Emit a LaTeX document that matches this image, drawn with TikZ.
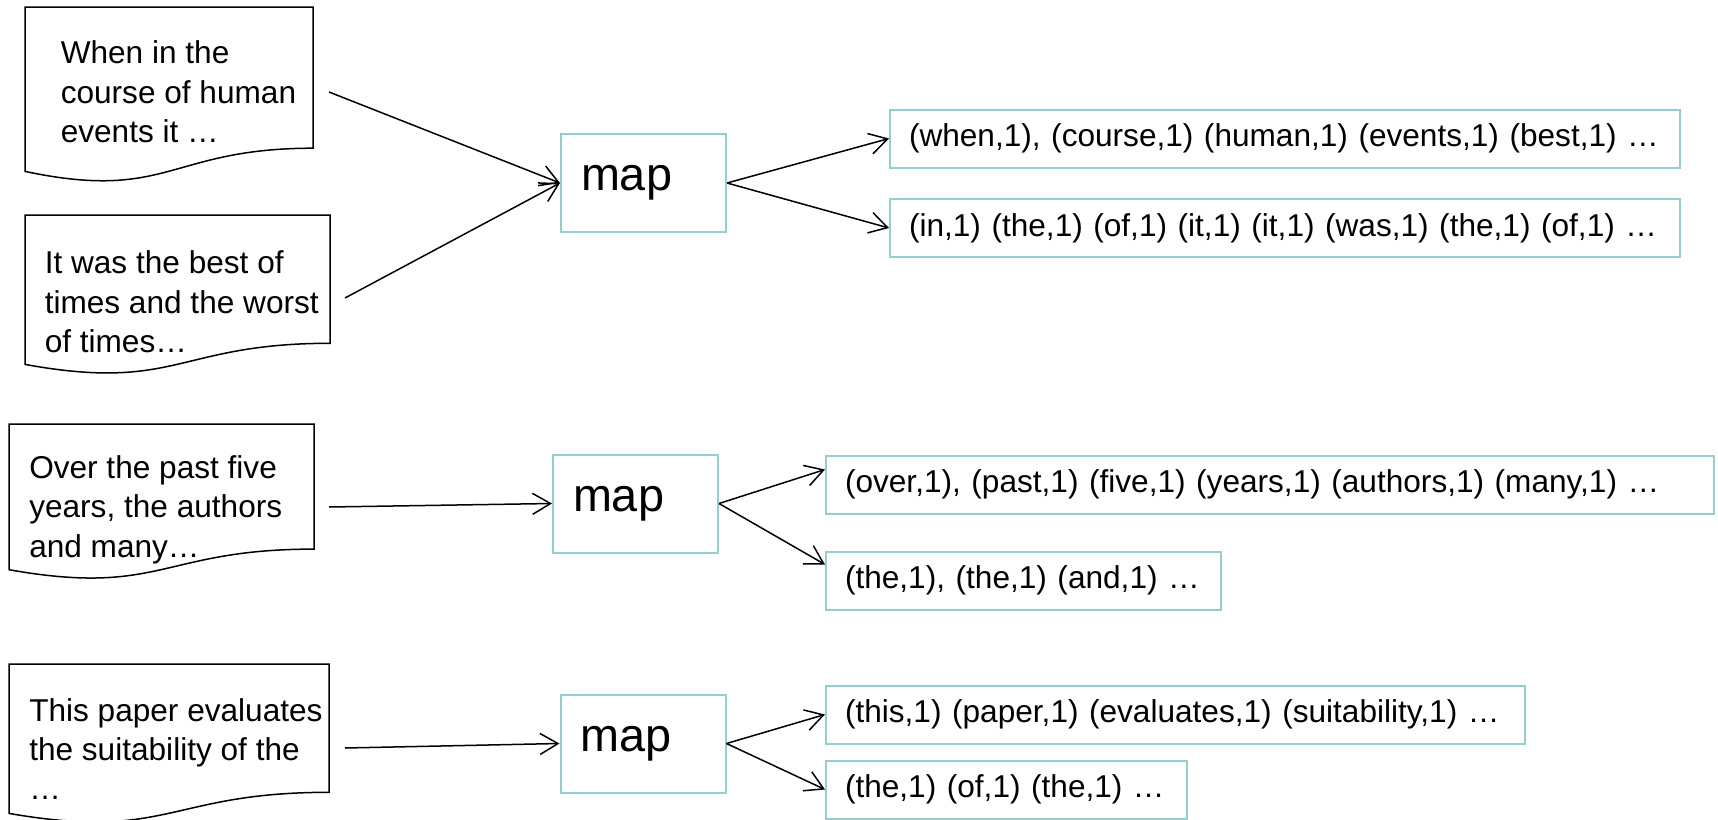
\documentclass[tikz,border=0pt]{standalone}
\usepackage{fontspec}
\setmainfont{Liberation Sans}
\usetikzlibrary{arrows.meta}
\definecolor{boxteal}{RGB}{150,206,206}
\begin{document}
\begin{tikzpicture}[x=0.5pt,y=-0.5pt,line width=0.75pt,
  doctext/.style={anchor=west,align=left,inner sep=0pt,font=\fontsize{15.8}{19.7}\selectfont},
  mapbox/.style={draw=boxteal,line width=1pt,minimum height=49pt,inner xsep=10pt,text width=62.5pt,align=left,font=\fontsize{23.4}{28}\selectfont},
  pairbox/.style={draw=boxteal,line width=1pt,anchor=west,minimum height=29pt,inner xsep=9.5pt,align=left,font=\fontsize{15.8}{19.7}\selectfont},
  flow/.style={-{Straight Barb[length=9pt,width=10.5pt]}}]
\useasboundingbox (0,0) rectangle (1718,819);

% input documents
\draw (25,7) -- (313,7) -- (313,148.2) .. controls (169,148.2) and (169,201.9) .. (25,171.4) -- cycle;
\node[doctext] (t1) at (60,92) {When in the\\course of human\\events it …};
\draw (25,215) -- (330,215) -- (330,343.3) .. controls (177.5,343.3) and (177.5,392.2) .. (25,364.4) -- cycle;
\node[doctext] (t2) at (44,302) {It was the best of\\times and the worst\\of times…};
\draw (9,424) -- (314,424) -- (314,549.1) .. controls (161.5,549.1) and (161.5,596.8) .. (9,569.7) -- cycle;
\node[doctext] (t3) at (28.5,509.5) {Over the past five\\years, the authors\\and many…};
\draw (9,664) -- (329,664) -- (329,792.3) .. controls (169,792.3) and (169,841.2) .. (9,813.4) -- cycle;
\node[doctext] (t4) at (28.5,749) {This paper evaluates\\the suitability of the\\…};

\coordinate (d1) at (329,92);
\coordinate (d2) at (345,298);
\coordinate (d3) at (329,507);
\coordinate (d4) at (345,748);

% map tasks
\node[mapbox] (m1) at (643.5,183) {map};
\node[mapbox] (m2) at (635.5,503.5) {map};
\node[mapbox] (m3) at (643,743.5) {map};

% intermediate pairs
\node[pairbox,text width=376pt] (o1) at (889,138.5) {(when,1), (course,1) (human,1) (events,1) (best,1) …};
\node[pairbox,text width=376pt] (o2) at (889,228) {(in,1) (the,1) (of,1) (it,1) (it,1) (was,1) (the,1) (of,1) …};
\node[pairbox,text width=425pt] (o3) at (825,484.5) {(over,1), (past,1) (five,1) (years,1) (authors,1) (many,1) …};
\node[pairbox,text width=178.5pt] (o4) at (825,580.5) {(the,1), (the,1) (and,1) …};
\node[pairbox,text width=330.5pt] (o5) at (825,714.5) {(this,1) (paper,1) (evaluates,1) (suitability,1) …};
\node[pairbox,text width=161.5pt] (o6) at (825,789.5) {(the,1) (of,1) (the,1) …};

\draw[flow] (d1) -- (m1.west);
\draw[flow] (d2) -- (m1.west);
\draw[flow] (d3) -- (m2.west);
\draw[flow] (d4) -- (m3.west);

\draw[flow] (m1.east) -- (o1.west);
\draw[flow] (m1.east) -- (o2.west);
\draw[flow] (m2.east) -- ([yshift=7.5pt]o3.west);
\draw[flow] (m2.east) -- ([yshift=8pt]o4.west);
\draw[flow] (m3.east) -- (o5.west);
\draw[flow] (m3.east) -- (o6.west);
\end{tikzpicture}
\end{document}
